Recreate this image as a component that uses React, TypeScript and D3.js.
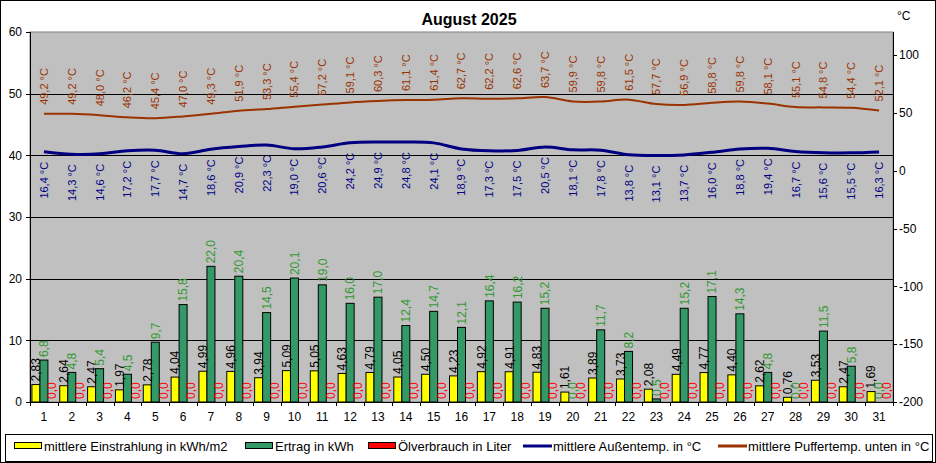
import React from "react";
import * as d3 from "d3";

// Tageswerte August 2025
const days = d3.range(1, 32).map(String);

const einstrahlung = [
  2.83, 2.64, 2.47, 1.97, 2.78, 4.04, 4.99, 4.96, 3.94, 5.09, 5.05, 4.63, 4.79, 4.05, 4.5, 4.23,
  4.92, 4.91, 4.83, 1.61, 3.89, 3.73, 2.08, 4.49, 4.77, 4.4, 2.62, 0.76, 3.53, 2.47, 1.69,
];

const ertrag = [
  6.8, 4.8, 5.4, 4.5, 9.7, 15.8, 22.0, 20.4, 14.5, 20.1, 19.0, 16.0, 17.0, 12.4, 14.7, 12.1,
  16.4, 16.2, 15.2, 0.0, 11.7, 8.2, 0.5, 15.2, 17.1, 14.3, 4.8, 0.0, 11.5, 5.8, 0.0,
];

const oelverbrauch = [
  0, 0, 0, 0, 0, 0, 0, 0, 0, 0, 0, 0, 0, 0, 0, 0, 0, 0, 0, 0, 0, 0, 0, 0, 0, 0, 0, 0, 0, 0, 0,
];

const aussentemp = [
  16.4, 14.3, 14.6, 17.2, 17.7, 14.7, 18.6, 20.9, 22.3, 19.0, 20.6, 24.2, 24.9, 24.8, 24.1, 18.9,
  17.3, 17.5, 20.5, 18.1, 17.8, 13.8, 13.1, 13.7, 16.0, 18.8, 19.4, 16.7, 15.6, 15.5, 16.3,
];

const puffertemp = [
  49.2, 49.2, 48.0, 46.2, 45.4, 47.0, 49.3, 51.9, 53.3, 55.4, 57.2, 59.1, 60.3, 61.1, 61.4, 62.7,
  62.2, 62.6, 63.7, 59.9, 59.8, 61.5, 57.7, 56.9, 58.8, 59.8, 58.1, 55.1, 54.8, 54.4, 52.1,
];

const leftTicks = [0, 10, 20, 30, 40, 50, 60];
const rightTicks = [-200, -150, -100, -50, 0, 50, 100];

const W = 936;
const H = 463;
const plot = { left: 30, right: 893, top: 32, bottom: 402 };
const font = "'Liberation Sans', Arial, sans-serif";

const fmt = (v: number, d: number) => v.toFixed(d).replace(".", ",");

const App: React.FC = () => {
  const x = d3.scaleBand().domain(days).range([plot.left, plot.right]).padding(0);
  const sub = d3
    .scaleBand()
    .domain(["e", "r", "o"])
    .range([0, x.bandwidth()])
    .paddingInner(0)
    .paddingOuter(0.24);
  const yL = d3.scaleLinear().domain([0, 60]).range([plot.bottom, plot.top]);
  const yR = d3.scaleLinear().domain([-200, 120]).range([plot.bottom, plot.top]);

  const cx = (i: number) => (x(days[i]) as number) + x.bandwidth() / 2;

  const line = d3
    .line<number>()
    .x((_, i) => cx(i))
    .y((d) => yR(d))
    .curve(d3.curveCatmullRom.alpha(0.5));

  const barSeries = [
    { key: "e", values: einstrahlung, fill: "#ffff00", text: "#000000", digits: 2 },
    { key: "r", values: ertrag, fill: "#339966", text: "#339933", digits: 1 },
    { key: "o", values: oelverbrauch, fill: "#ff0000", text: "#ff0000", digits: 1 },
  ];

  const legend = [
    { kind: "rect", color: "#ffff00", x: 14, label: "mittlere Einstrahlung in kWh/m2" },
    { kind: "rect", color: "#339966", x: 245, label: "Ertrag in kWh" },
    { kind: "rect", color: "#ff0000", x: 368, label: "Ölverbrauch in Liter" },
    { kind: "line", color: "#000080", x: 523, label: "mittlere Außentemp. in °C" },
    { kind: "line", color: "#993300", x: 718, label: "mittlere Puffertemp. unten in °C" },
  ];

  return (
    <svg
      width={W}
      height={H}
      style={{ position: "absolute", left: 0, top: 0, fontFamily: font }}
    >
      <rect x={0.5} y={0.5} width={W - 1} height={H - 1} fill="#fff" stroke="#000" />

      <text x={469} y={25} textAnchor="middle" fontSize={16} fontWeight="bold">
        August 2025
      </text>
      <text x={897} y={20} fontSize={12}>
        °C
      </text>

      {/* Plotfläche */}
      <rect
        x={plot.left}
        y={plot.top}
        width={plot.right - plot.left}
        height={plot.bottom - plot.top}
        fill="#c0c0c0"
        stroke="#808080"
      />
      {leftTicks
        .filter((t) => t > 0 && t < 60)
        .map((t) => (
          <line
            key={"g" + t}
            x1={plot.left}
            x2={plot.right}
            y1={Math.round(yL(t)) + 0.5}
            y2={Math.round(yL(t)) + 0.5}
            stroke="#000"
          />
        ))}

      {/* Balken */}
      {barSeries.map((s) =>
        s.values.map((v, i) => {
          const bx = (x(days[i]) as number) + (sub(s.key) as number);
          const by = yL(v);
          return (
            <rect
              key={s.key + i}
              x={bx}
              y={by}
              width={sub.bandwidth()}
              height={plot.bottom - by}
              fill={s.fill}
              stroke="#000"
              strokeWidth={1}
            />
          );
        })
      )}
      {barSeries.map((s) =>
        s.values.map((v, i) => {
          const bx = (x(days[i]) as number) + (sub(s.key) as number) + sub.bandwidth() / 2;
          const by = yL(v) - 3;
          return (
            <text
              key={"l" + s.key + i}
              transform={`translate(${bx},${by}) rotate(-90)`}
              dy="0.36em"
              fontSize={12}
              fill={s.text}
            >
              {fmt(v, s.digits)}
            </text>
          );
        })
      )}

      {/* Temperaturlinien */}
      <path d={line(puffertemp) || ""} fill="none" stroke="#993300" strokeWidth={2} />
      <path d={line(aussentemp) || ""} fill="none" stroke="#000080" strokeWidth={3} />
      {puffertemp.map((v, i) => (
        <text
          key={"p" + i}
          transform={`translate(${cx(i)},${yR(v) - 9}) rotate(-90)`}
          dy="0.36em"
          fontSize={11}
          fill="#993300"
        >
          {fmt(v, 1)} °C
        </text>
      ))}
      {aussentemp.map((v, i) => (
        <text
          key={"a" + i}
          transform={`translate(${cx(i)},${yR(v) + 10}) rotate(-90)`}
          dy="0.36em"
          textAnchor="end"
          fontSize={11}
          fill="#000080"
        >
          {fmt(v, 1)} °C
        </text>
      ))}

      {/* Achsen */}
      <line x1={plot.left + 0.5} x2={plot.left + 0.5} y1={plot.top} y2={plot.bottom} stroke="#000" />
      <line x1={plot.right + 0.5} x2={plot.right + 0.5} y1={plot.top} y2={plot.bottom} stroke="#000" />
      <line x1={plot.left} x2={plot.right} y1={plot.bottom + 0.5} y2={plot.bottom + 0.5} stroke="#000" />
      {leftTicks.map((t) => (
        <g key={"lt" + t}>
          <line x1={26} x2={30} y1={Math.round(yL(t)) + 0.5} y2={Math.round(yL(t)) + 0.5} stroke="#000" />
          <text x={22} y={yL(t)} dy="0.35em" textAnchor="end" fontSize={12}>
            {t}
          </text>
        </g>
      ))}
      {rightTicks.map((t) => (
        <g key={"rt" + t}>
          <line x1={893} x2={897} y1={Math.round(yR(t)) + 0.5} y2={Math.round(yR(t)) + 0.5} stroke="#000" />
          <text x={899} y={yR(t)} dy="0.35em" fontSize={12}>
            {t}
          </text>
        </g>
      ))}
      {days.map((d, i) => (
        <g key={"xt" + d}>
          <line
            x1={Math.round(x(d) as number) + 0.5}
            x2={Math.round(x(d) as number) + 0.5}
            y1={plot.bottom}
            y2={plot.bottom + 4}
            stroke="#000"
          />
          <text x={cx(i)} y={421} textAnchor="middle" fontSize={12}>
            {d}
          </text>
        </g>
      ))}
      <line x1={plot.right + 0.5} x2={plot.right + 0.5} y1={plot.bottom} y2={plot.bottom + 4} stroke="#000" />

      {/* Legende */}
      <rect x={5.5} y={434.5} width={927} height={27} fill="#fff" stroke="#000" />
      {legend.map((l) => (
        <g key={l.label}>
          {l.kind === "rect" ? (
            <rect x={l.x + 0.5} y={442.5} width={27} height={6} fill={l.color} stroke="#000" />
          ) : (
            <line x1={l.x} x2={l.x + 29} y1={446} y2={446} stroke={l.color} strokeWidth={3} />
          )}
          <text x={l.x + 30} y={451} fontSize={13}>
            {l.label}
          </text>
        </g>
      ))}
    </svg>
  );
};

export default App;
